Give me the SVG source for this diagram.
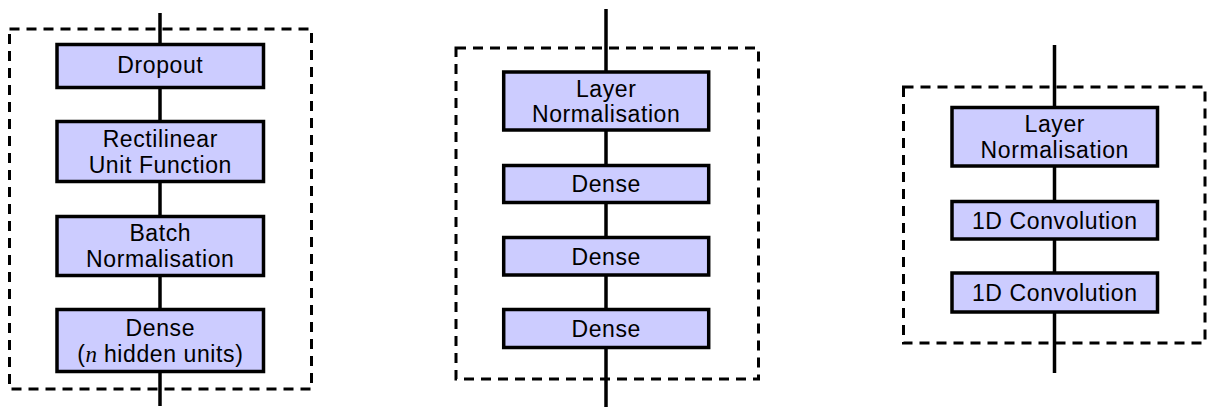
<svg xmlns="http://www.w3.org/2000/svg" width="1209" height="407" viewBox="0 0 1209 407">
<style>
.bg{fill:#ffffff}
.frame{fill:none;stroke:#000;stroke-width:3;stroke-dasharray:10 7}
.box{fill:#ccccff;stroke:#000;stroke-width:3.5}
.conn{stroke:#000;stroke-width:3.5;fill:none}
text{font-family:"Liberation Sans",Arial,sans-serif;font-size:23px;letter-spacing:0.6px;fill:#000;text-anchor:middle}
.math{font-family:"Liberation Serif","Times New Roman",serif;font-style:italic;letter-spacing:0}
</style>
<rect class="bg" x="0" y="0" width="1209" height="407"/>

<g id="connectors">
  <line class="conn" x1="160" y1="13" x2="160" y2="44.5"/>
  <line class="conn" x1="160" y1="87.5" x2="160" y2="121.5"/>
  <line class="conn" x1="160" y1="181.5" x2="160" y2="216.5"/>
  <line class="conn" x1="160" y1="275.5" x2="160" y2="309.5"/>
  <line class="conn" x1="160" y1="371.5" x2="160" y2="406"/>

  <line class="conn" x1="606" y1="9" x2="606" y2="72"/>
  <line class="conn" x1="606" y1="130" x2="606" y2="165.5"/>
  <line class="conn" x1="606" y1="202.5" x2="606" y2="237.5"/>
  <line class="conn" x1="606" y1="275" x2="606" y2="309.5"/>
  <line class="conn" x1="606" y1="347.5" x2="606" y2="407"/>

  <line class="conn" x1="1054.5" y1="45" x2="1054.5" y2="107.5"/>
  <line class="conn" x1="1054.5" y1="166" x2="1054.5" y2="201.5"/>
  <line class="conn" x1="1054.5" y1="239" x2="1054.5" y2="273"/>
  <line class="conn" x1="1054.5" y1="312" x2="1054.5" y2="373"/>
</g>

<g id="frame1"><rect class="frame" x="9.5" y="29" width="302" height="360"/></g>
<g id="frame2"><rect class="frame" x="456" y="48" width="302.5" height="331"/></g>
<g id="frame3"><rect class="frame" x="903.5" y="87" width="301.5" height="256"/></g>

<g id="dropout">
  <rect class="box" x="57" y="44.5" width="206.5" height="43"/>
  <text x="160.3" y="73">Dropout</text>
</g>
<g id="relu">
  <rect class="box" x="57" y="121.5" width="206.5" height="60"/>
  <text x="160.3" y="146.5">Rectilinear</text>
  <text x="160.3" y="172.5">Unit Function</text>
</g>
<g id="batchnorm">
  <rect class="box" x="57" y="216.5" width="206.5" height="59"/>
  <text x="160.3" y="241">Batch</text>
  <text x="160.3" y="267">Normalisation</text>
</g>
<g id="dense-hidden">
  <rect class="box" x="57" y="309.5" width="206.5" height="62"/>
  <text x="160.3" y="335.5">Dense</text>
  <text x="160.3" y="361.5">(<tspan class="math">n</tspan> hidden units)</text>
</g>

<g id="layernorm1">
  <rect class="box" x="503.7" y="72" width="205" height="58"/>
  <text x="606.2" y="96.5">Layer</text>
  <text x="606.2" y="122">Normalisation</text>
</g>
<g id="dense1">
  <rect class="box" x="503.7" y="165.5" width="205" height="37"/>
  <text x="606.2" y="192.3">Dense</text>
</g>
<g id="dense2">
  <rect class="box" x="503.7" y="237.5" width="205" height="37.5"/>
  <text x="606.2" y="264.5">Dense</text>
</g>
<g id="dense3">
  <rect class="box" x="503.7" y="309.5" width="205" height="38"/>
  <text x="606.2" y="336.5">Dense</text>
</g>

<g id="layernorm2">
  <rect class="box" x="952" y="107.5" width="205.5" height="58.5"/>
  <text x="1054.8" y="132">Layer</text>
  <text x="1054.8" y="157.5">Normalisation</text>
</g>
<g id="conv1">
  <rect class="box" x="952" y="201.5" width="205.5" height="37.5"/>
  <text x="1054.8" y="228.5">1D Convolution</text>
</g>
<g id="conv2">
  <rect class="box" x="952" y="273" width="205.5" height="39"/>
  <text x="1054.8" y="300.5">1D Convolution</text>
</g>
</svg>
